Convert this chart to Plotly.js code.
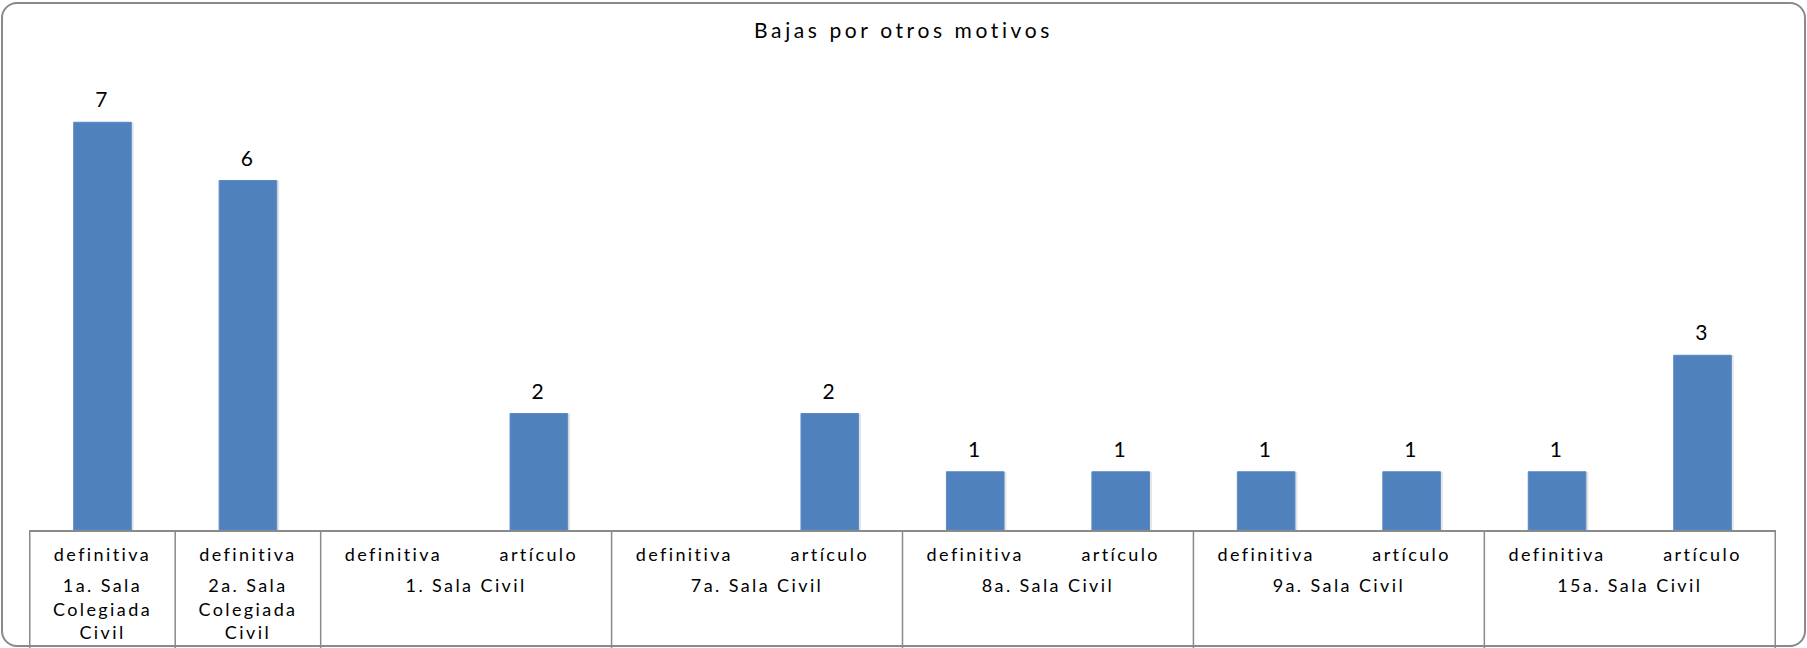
<!DOCTYPE html>
<html>
<head>
<meta charset="utf-8">
<script src="https://cdn.plot.ly/plotly-3.0.1.min.js"></script>
<style>
  html, body { margin: 0; padding: 0; background: #ffffff; }
  #wrap { position: relative; width: 1807px; height: 648px; overflow: hidden; }
  #chart { position: absolute; left: 0; top: 0; width: 1807px; height: 648px; }
  #frame { position: absolute; left: 1px; top: 2px; width: 1801px; height: 641px;
           border: 2px solid #8a8a8a; border-radius: 16px; pointer-events: none; }
  #chart text { letter-spacing: 2.4px; }
  #chart .gtitle { letter-spacing: 3.6px; }
  #chart .xtick2 text { translate: 0px 15px; }
  #chart .bartext { translate: 0px -8px; }
</style>
</head>
<body>
<div id="wrap">
  <div id="chart"></div>
  <div id="frame"></div>
</div>
<script>
// ---- data ----
const salas = [
  "1a. Sala<br>Colegiada<br>Civil",
  "2a. Sala<br>Colegiada<br>Civil",
  "1. Sala Civil", "1. Sala Civil",
  "7a. Sala Civil", "7a. Sala Civil",
  "8a. Sala Civil", "8a. Sala Civil",
  "9a. Sala Civil", "9a. Sala Civil",
  "15a. Sala Civil", "15a. Sala Civil"
];
const tipos = [
  "definitiva", "definitiva",
  "definitiva", "artículo",
  "definitiva", "artículo",
  "definitiva", "artículo",
  "definitiva", "artículo",
  "definitiva", "artículo"
];
const valores = [7, 6, null, 2, null, 2, 1, 1, 1, 1, 1, 3];
const titulo = "Bajas por otros motivos";

const FONT = "Lato, 'Open Sans', sans-serif";
const GRAY = "#8a8a8a";

// group boundaries (category index units) where the sala changes
const bounds = [-0.5];
for (let i = 1; i < salas.length; i++) {
  if (salas[i] !== salas[i - 1]) bounds.push(i - 0.5);
}
bounds.push(salas.length - 0.5);

const dividerShapes = bounds.map(b => ({
  type: "line",
  xref: "x", yref: "paper",
  x0: b, x1: b,
  y0: 0, y1: -0.26,
  line: { color: GRAY, width: 1.5 },
  layer: "above"
}));

const shadow = {
  type: "bar",
  x: [salas, tipos],
  y: valores,
  width: 0.40,
  offset: -0.185,
  marker: { color: "rgba(0,0,0,0.10)", line: { width: 0 } },
  hoverinfo: "skip",
  showlegend: false
};

const bars = {
  type: "bar",
  x: [salas, tipos],
  y: valores,
  width: 0.396,
  offset: -0.198,
  marker: { color: "#4f81bd", line: { color: "#5a8ac4", width: 1 } },
  text: valores.map(v => v === null ? "" : String(v)),
  textposition: "outside",
  textfont: { family: FONT, size: 21, color: "#000000" },
  cliponaxis: false,
  showlegend: false
};

const layout = {
  width: 1807,
  height: 648,
  margin: { l: 29, r: 31, t: 64, b: 118, pad: 0 },
  paper_bgcolor: "#ffffff",
  plot_bgcolor: "#ffffff",
  barmode: "overlay",
  title: {
    text: titulo,
    font: { family: FONT, size: 21, color: "#000000" },
    x: 0.5, xanchor: "center",
    y: 1 - 31 / 648, yanchor: "middle"
  },
  xaxis: {
    type: "multicategory",
    showline: true,
    linecolor: GRAY,
    linewidth: 1.5,
    showgrid: false,
    zeroline: false,
    ticks: "",
    showdividers: false,
    ticklabelstandoff: 8,
    tickfont: { family: FONT, size: 18, color: "#000000" },
    fixedrange: true
  },
  yaxis: {
    range: [0, 8],
    visible: false,
    showgrid: false,
    zeroline: false,
    fixedrange: true
  },
  shapes: dividerShapes,
  showlegend: false
};

Plotly.newPlot("chart", [shadow, bars], layout, { displayModeBar: false, staticPlot: true });
</script>
</body>
</html>
